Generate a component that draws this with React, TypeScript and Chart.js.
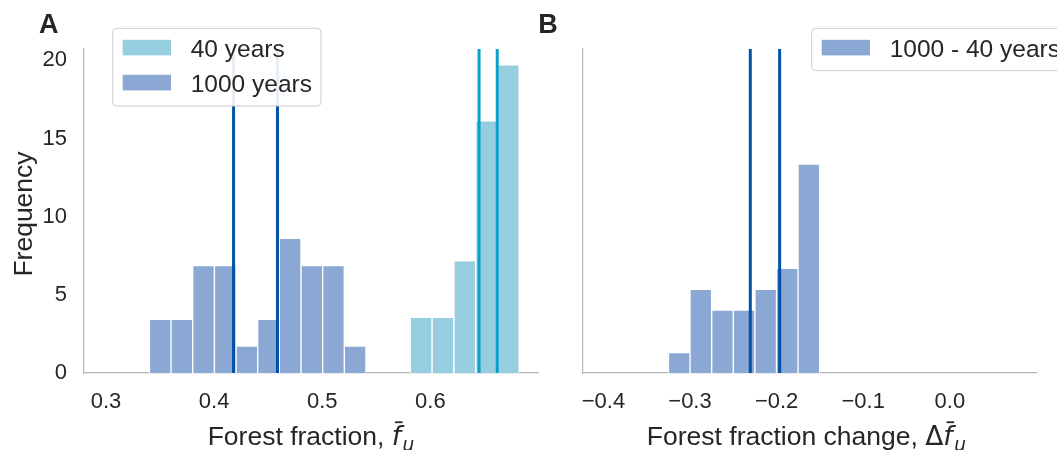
import React, { useEffect, useRef } from 'react';
import { Chart, registerables } from 'chart.js';

Chart.register(...registerables);

// ---------- Panel A: forest fraction histograms ----------
const binsA1000 = [0.3502, 0.3702, 0.3902, 0.4103, 0.4303, 0.4503, 0.4703, 0.4904, 0.5104, 0.5304];
const freqA1000 = [3.44, 3.44, 6.87, 6.87, 1.73, 3.44, 8.62, 6.87, 6.87, 1.73];
const binsA40 = [0.5915, 0.6116, 0.6318, 0.652, 0.6721];
const freqA40 = [3.56, 3.56, 7.17, 16.14, 19.71];
const linesA1000 = [0.418, 0.4586];
const linesA40 = [0.645, 0.6618];
const xTicksA = [0.3, 0.4, 0.5, 0.6];
const legendA = ['40 years', '1000 years'];

// ---------- Panel B: forest fraction change ----------
const binsB = [-0.3124, -0.2875, -0.2625, -0.2376, -0.2126, -0.1877, -0.1628];
const freqB = [1.3, 5.36, 4.03, 4.03, 5.36, 6.7, 13.37];
const linesB = [-0.2304, -0.1965];
const xTicksB = [-0.4, -0.3, -0.2, -0.1, 0.0];
const legendB = ['1000 - 40 years'];

// ---------- shared ----------
const yTicks = [0, 5, 10, 15, 20];
const Y_MAX = 20.73;

const FONT = "'Liberation Sans', Arial, sans-serif";
const MATH = "'DejaVu Sans', sans-serif";
const TEXT = '#262626';
const C1000 = '#8ba7d3';
const C40 = '#96cee0';
const LINE_DARK = '#0052a6';
const LINE_TEAL = '#0aa0c8';
const SPINE = '#b4b4b4';
const LABEL_SIZE = 26.5;

const fmt = (v: number) => {
  const r = Math.round(v * 10) / 10;
  return (r < 0 ? '\u2212' : '') + Math.abs(r).toFixed(1);
};

function drawMathLabel(ctx: CanvasRenderingContext2D, prefix: string, delta: boolean, cx: number, baseline: number) {
  const s = LABEL_SIZE;
  const fReg = `${s}px ${FONT}`;
  const fIt = `italic ${s}px ${MATH}`;
  const fSub = `italic ${s * 0.7}px ${MATH}`;
  const fDelta = `${s}px ${MATH}`;
  ctx.font = fReg;
  const w1 = ctx.measureText(prefix).width;
  ctx.font = fDelta;
  const wD = delta ? ctx.measureText('\u0394').width : 0;
  ctx.font = fIt;
  const wf = ctx.measureText('f').width;
  ctx.font = fSub;
  const wu = ctx.measureText('u').width;
  const total = w1 + wD + wf + 1.5 + wu;
  let x = cx - total / 2;
  ctx.textAlign = 'left';
  ctx.textBaseline = 'alphabetic';
  ctx.fillStyle = TEXT;
  ctx.font = fReg;
  ctx.fillText(prefix, x, baseline);
  x += w1;
  if (delta) {
    ctx.font = fDelta;
    ctx.fillText('\u0394', x, baseline);
    x += wD;
  }
  ctx.font = fIt;
  ctx.fillText('f', x, baseline);
  ctx.strokeStyle = TEXT;
  ctx.lineWidth = 1.8;
  ctx.beginPath();
  ctx.moveTo(x + 3.3, baseline - s * 0.84);
  ctx.lineTo(x + 10.8, baseline - s * 0.84);
  ctx.stroke();
  x += wf + 1.5;
  ctx.font = fSub;
  ctx.fillText('u', x, baseline + 6);
}

function drawLegend(ctx: CanvasRenderingContext2D, bx: number, by: number, bw: number, bh: number,
  items: { label: string; color: string }[]) {
  const r = 4;
  ctx.beginPath();
  ctx.moveTo(bx + r, by);
  ctx.lineTo(bx + bw - r, by);
  ctx.arcTo(bx + bw, by, bx + bw, by + r, r);
  ctx.lineTo(bx + bw, by + bh - r);
  ctx.arcTo(bx + bw, by + bh, bx + bw - r, by + bh, r);
  ctx.lineTo(bx + r, by + bh);
  ctx.arcTo(bx, by + bh, bx, by + bh - r, r);
  ctx.lineTo(bx, by + r);
  ctx.arcTo(bx, by, bx + r, by, r);
  ctx.closePath();
  ctx.fillStyle = 'rgba(255,255,255,0.9)';
  ctx.fill();
  ctx.strokeStyle = '#cccccc';
  ctx.lineWidth = 1;
  ctx.stroke();
  items.forEach((it, i) => {
    const cy = by + 19.3 + i * 35;
    ctx.fillStyle = it.color;
    ctx.fillRect(bx + 10, cy - 7.8, 48.3, 15.6);
    ctx.fillStyle = TEXT;
    ctx.font = `24.5px ${FONT}`;
    ctx.textAlign = 'left';
    ctx.textBaseline = 'alphabetic';
    ctx.fillText(it.label, bx + 78, cy + 9.7);
  });
}

function barSet(label: string, xs: number[], ys: number[], color: string) {
  return {
    type: 'bar' as const,
    label,
    data: xs.map((x, i) => ({ x, y: ys[i] })),
    backgroundColor: color,
    borderColor: '#ffffff',
    borderWidth: 1,
    barPercentage: 1,
    categoryPercentage: 1,
    grouped: false,
    order: 2,
  };
}

function lineSet(x: number, color: string) {
  return {
    type: 'line' as const,
    label: 'mean',
    data: [{ x, y: 0 }, { x, y: Y_MAX }],
    borderColor: color,
    borderWidth: 3,
    pointRadius: 0,
    fill: false,
    order: 0,
  };
}

function makeConfig(panel: 'A' | 'B'): any {
  const isA = panel === 'A';
  const datasets: any[] = [];
  if (isA) {
    datasets.push(barSet(legendA[0], binsA40, freqA40, C40));
    datasets.push(barSet(legendA[1], binsA1000, freqA1000, C1000));
    linesA1000.forEach((x) => datasets.push(lineSet(x, LINE_DARK)));
    linesA40.forEach((x) => datasets.push(lineSet(x, LINE_TEAL)));
  } else {
    datasets.push(barSet(legendB[0], binsB, freqB, C1000));
    linesB.forEach((x) => datasets.push(lineSet(x, LINE_DARK)));
  }
  const xt = isA ? xTicksA : xTicksB;
  const yAxisWidth = isA ? 84 : 52.7;

  const decor = {
    id: 'decor' + panel,
    afterDraw(chart: any) {
      const ctx: CanvasRenderingContext2D = chart.ctx;
      const ca = chart.chartArea;
      ctx.save();
      // panel letter
      ctx.fillStyle = TEXT;
      ctx.font = `bold 27px ${FONT}`;
      ctx.textAlign = 'left';
      ctx.textBaseline = 'alphabetic';
      ctx.fillText(panel, isA ? 39 : 8.3, 33.3);
      // y title
      if (isA) {
        ctx.save();
        ctx.translate(32, (ca.top + ca.bottom) / 2 + 3);
        ctx.rotate(-Math.PI / 2);
        ctx.textAlign = 'center';
        ctx.font = `${LABEL_SIZE}px ${FONT}`;
        ctx.fillStyle = TEXT;
        ctx.fillText('Frequency', 0, 0);
        ctx.restore();
      }
      // x title
      drawMathLabel(ctx, isA ? 'Forest fraction, ' : 'Forest fraction change, ', !isA,
        (ca.left + ca.right) / 2 - (isA ? 0 : 3), 444.5);
      // legend
      if (isA) {
        drawLegend(ctx, ca.left + 28.7, ca.top - 20.7, 208.3, 77.7, [
          { label: legendA[0], color: C40 },
          { label: legendA[1], color: C1000 },
        ]);
      } else {
        drawLegend(ctx, ca.left + 229, ca.top - 20.7, 300, 42.4, [
          { label: legendB[0], color: C1000 },
        ]);
      }
      ctx.restore();
    },
  };

  return {
    type: 'bar',
    data: { datasets },
    options: {
      responsive: false,
      animation: false,
      devicePixelRatio: 1,
      layout: { padding: { top: 49, right: isA ? 7 : 21, left: 0, bottom: 0 } },
      plugins: { legend: { display: false }, tooltip: { enabled: false }, title: { display: false } },
      scales: {
        x: {
          type: 'linear',
          offset: false,
          min: isA ? 0.2797 : -0.4239,
          max: isA ? 0.6995 : 0.0995,
          afterBuildTicks: (s: any) => { s.ticks = xt.map((v) => ({ value: v })); },
          afterFit: (s: any) => { s.height = 77; },
          grid: { display: false, drawTicks: false },
          border: { display: true, color: SPINE, width: 1.2 },
          ticks: {
            padding: 16,
            color: TEXT,
            font: { family: FONT, size: 22 },
            maxRotation: 0,
            autoSkip: false,
            callback: (v: number) => fmt(v),
          },
        },
        y: {
          type: 'linear',
          min: 0,
          max: Y_MAX,
          afterBuildTicks: (s: any) => { s.ticks = yTicks.map((v) => ({ value: v })); },
          afterFit: (s: any) => { s.width = yAxisWidth; },
          grid: { display: false, drawTicks: false },
          border: { display: true, color: SPINE, width: 1.2 },
          ticks: {
            display: isA,
            padding: 17,
            color: TEXT,
            font: { family: FONT, size: 22 },
            callback: (v: number) => String(v),
          },
        },
      },
    },
    plugins: [decor],
  };
}

export default function App() {
  const refA = useRef<HTMLCanvasElement>(null);
  const refB = useRef<HTMLCanvasElement>(null);
  useEffect(() => {
    const a = new Chart(refA.current as HTMLCanvasElement, makeConfig('A'));
    const b = new Chart(refB.current as HTMLCanvasElement, makeConfig('B'));
    return () => {
      a.destroy();
      b.destroy();
    };
  }, []);
  return (
    <div style={{ position: 'fixed', left: 0, top: 0, width: 1057, height: 450, background: '#ffffff', overflow: 'hidden' }}>
      <canvas ref={refA} width={545} height={450} style={{ position: 'absolute', left: 0, top: 0 }} />
      <canvas ref={refB} width={527} height={450} style={{ position: 'absolute', left: 530, top: 0 }} />
    </div>
  );
}
